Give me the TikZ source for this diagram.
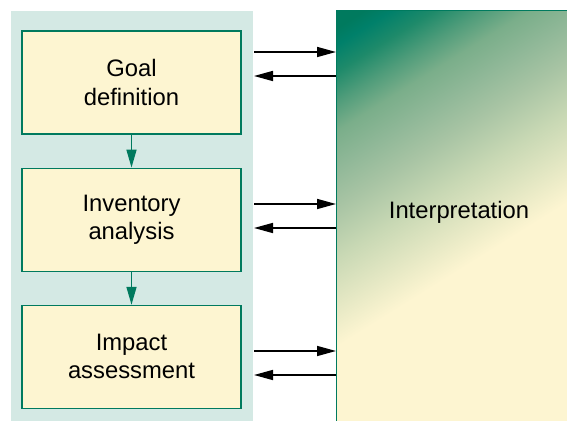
\documentclass[tikz,border=0pt]{standalone}
\usepackage{fontspec}
\setmainfont{Liberation Sans}
\usetikzlibrary{positioning,arrows.meta}
\definecolor{lcagreen}{HTML}{007A5E}
\definecolor{lcapanel}{HTML}{D4E9E4}
\definecolor{lcacream}{HTML}{FDF5D1}
\definecolor{shadeA}{HTML}{C8D8B4}
\definecolor{shadeB}{HTML}{A8C4A4}
\definecolor{shadeC}{HTML}{90B898}
\definecolor{shadeD}{HTML}{7AAE8A}
\definecolor{shadeE}{HTML}{4E9C7A}
\definecolor{shadeF}{HTML}{1E8A6A}
\definecolor{shadeG}{HTML}{00806A}
\pgfdeclareverticalshading{interpshade}{100bp}{color(0bp)=(lcacream); color(45bp)=(lcacream);
  color(53bp)=(shadeA); color(57.5bp)=(shadeB); color(61bp)=(shadeC);
  color(64.3bp)=(shadeD); color(67bp)=(shadeE); color(69.6bp)=(shadeF);
  color(72bp)=(shadeG); color(73.5bp)=(lcagreen); color(100bp)=(lcagreen)}
\begin{document}
\begin{tikzpicture}[x=0.5pt,y=-0.5pt,
    stage/.style={draw=lcagreen, fill=lcacream, line width=0.6pt,
      minimum width=109.5pt, minimum height=51.5pt, inner sep=0pt,
      align=center, font=\fontsize{11.9}{14}\selectfont},
    nextstage/.style={lcagreen, line width=0.8pt, -{Triangle[length=9pt,width=5pt]}},
    toint/.style={black, line width=0.8pt, -{Triangle[length=9.5pt,width=5pt]}}]
    \useasboundingbox (0,0) rectangle (567,421);
    % left panel
    \fill[lcapanel] (11,11) rectangle (253,425);
    \node[stage] (goal) at (131.5,82.5) {Goal\\definition};
    \node[stage, below=16.5pt of goal] (inv) {Inventory\\analysis};
    \node[stage, below=16.5pt of inv] (imp) {Impact\\assessment};
    \draw[nextstage] (goal) -- (inv);
    \draw[nextstage] (inv) -- (imp);
    % interpretation block
    \path node[minimum width=116pt, minimum height=207pt, inner sep=0pt, anchor=north west]
      (interp) at (336,11) {};
    \begin{scope}
        \clip (interp.south west) rectangle (interp.north east);
        \begin{scope}[transform canvas={shift={(interp.center)}, rotate=32}]
            \shade[shading=interpshade] (-110pt,-118.5pt) rectangle (110pt,118.5pt);
        \end{scope}
    \end{scope}
    \draw[lcagreen, line width=0.5pt] (interp.south west) rectangle (interp.north east);
    \node[font=\fontsize{11.9}{14}\selectfont] (interptext) at (459,212) {Interpretation};
    \foreach \s/\y in {goal/52,inv/204,imp/351} {
        \coordinate (\s-out) at (254,\y);
        \coordinate (\s-in) at (254,\y+24);
        \draw[toint] (\s-out) -- (\s-out -| interp.west);
        \draw[toint] (\s-in -| interp.west) -- (\s-in);
    }
\end{tikzpicture}
\end{document}
